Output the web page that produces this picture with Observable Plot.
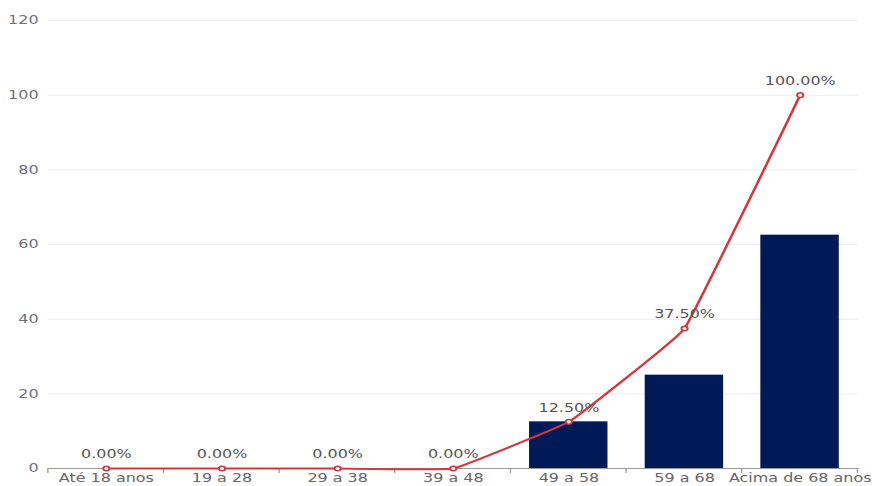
<!DOCTYPE html>
<html>
<head>
<meta charset="utf-8">
<script src="https://cdn.jsdelivr.net/npm/d3@7"></script>
<script src="https://cdn.jsdelivr.net/npm/@observablehq/plot@0.6"></script>
<style>
  html, body { margin: 0; padding: 0; background: #fff; overflow: hidden; }
  #chart svg { display: block; font-family: "DejaVu Sans", sans-serif; }
</style>
</head>
<body>
<div id="chart"></div>
<script>
const categories = ["Até 18 anos", "19 a 28", "29 a 38", "39 a 48", "49 a 58", "59 a 68", "Acima de 68 anos"];
const barValues = [0, 0, 0, 0, 12.5, 25, 62.5];
const cumulative = [0, 0, 0, 0, 12.5, 37.5, 100];
const yTicks = [0, 20, 40, 60, 80, 100, 120];

const data = categories.map((c, i) => ({cat: c, bar: barValues[i], cum: cumulative[i]}));
const bars = data.filter(d => d.bar > 0);

// The reference is horizontally stretched; draw narrower and stretch to 872px.
const STRETCH = 1.33;
const W = Math.round(872 / STRETCH);

const boundaryTicks = (index, scales, values, dimensions) => {
  const x = scales.x;
  const step = x.step ? x.step() : x.bandwidth() / 0.68;
  const bw = x.bandwidth();
  const x0 = x(categories[0]) - (step - bw) / 2;
  const yb = dimensions.height - dimensions.marginBottom;
  const g = d3.create("svg:g");
  for (let i = 0; i <= categories.length; i++) {
    g.append("line")
      .attr("x1", x0 + i * step).attr("x2", x0 + i * step)
      .attr("y1", yb).attr("y2", yb + 5)
      .attr("stroke", "#9a9a9a").attr("stroke-width", 1);
  }
  return g.node();
};

const chart = Plot.plot({
  width: W,
  height: 486,
  marginLeft: 36,
  marginRight: 10,
  marginTop: 20,
  marginBottom: 18,
  style: {fontFamily: "DejaVu Sans, sans-serif", fontSize: "12px", color: "#666"},
  x: {domain: categories, paddingInner: 0.32, paddingOuter: 0.16, axis: null},
  y: {domain: [0, 120], axis: null},
  marks: [
    Plot.ruleY(yTicks.filter(t => t > 0), {stroke: "#eceef4", strokeWidth: 1}),
    Plot.axisY(yTicks, {tickSize: 0, tickPadding: 7.5, fontSize: 12, fill: "#6e7079", label: null}),
    Plot.barY(bars, {x: "cat", y: "bar", fill: "#001a57"}),
    Plot.ruleY([0], {stroke: "#9a9a9a", strokeWidth: 1}),
    boundaryTicks,
    Plot.axisX(categories, {tickSize: 0, tickPadding: 5, fontSize: 12, fill: "#666", label: null}),
    Plot.line(data, {x: "cat", y: "cum", stroke: "#d2383e", strokeWidth: 2, curve: "cardinal", tension: 0.8}),
    Plot.dot(data, {x: "cat", y: "cum", r: 2.3, stroke: "#d2383e", strokeWidth: 1.5, fill: "#fff"}),
    Plot.text(data, {x: "cat", y: "cum", text: d => d.cum.toFixed(2) + "%", dy: -14, fontSize: 12, fill: "#555"})
  ]
});
chart.setAttribute("preserveAspectRatio", "none");
chart.setAttribute("width", 872);
chart.setAttribute("height", 486);
chart.style.width = "872px";
chart.style.height = "486px";
chart.style.maxWidth = "none";
document.getElementById("chart").appendChild(chart);
</script>
</body>
</html>
